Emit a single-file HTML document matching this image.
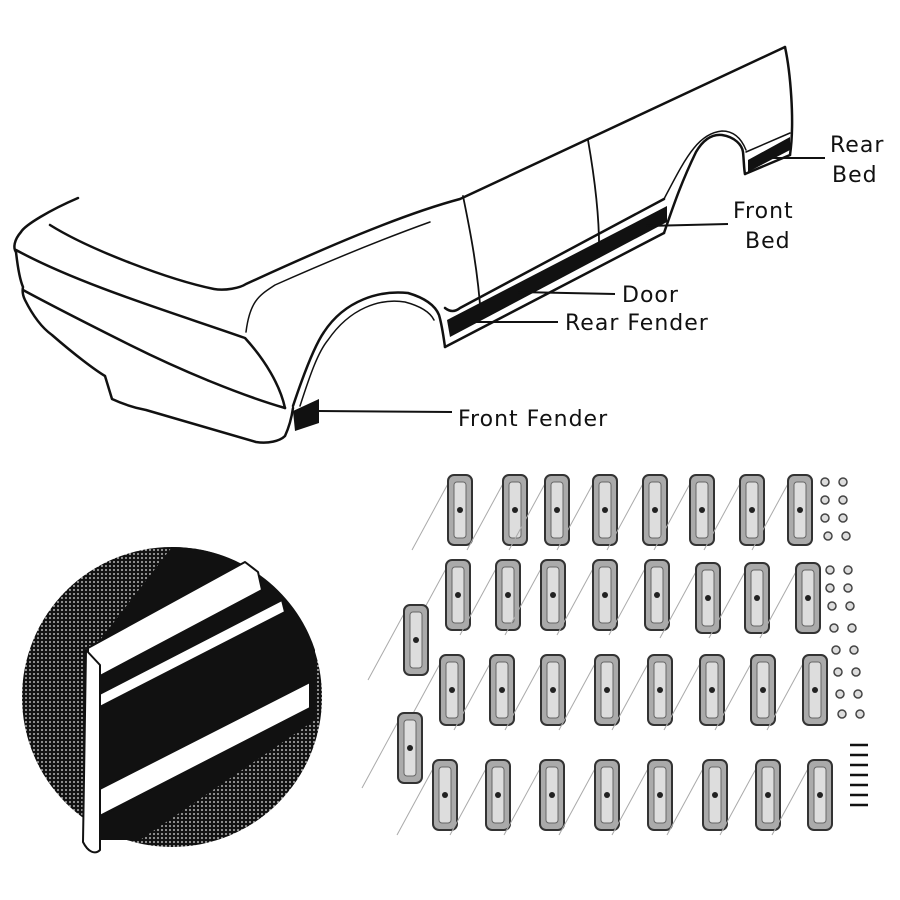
<!DOCTYPE html>
<html><head><style>
html,body{margin:0;padding:0;background:#fff;}
svg{display:block}
text{font-family:"DejaVu Sans","Liberation Sans",sans-serif;font-size:22px;fill:#111;letter-spacing:1px}
</style></head><body>
<svg width="900" height="900" viewBox="0 0 900 900" xmlns="http://www.w3.org/2000/svg">
<defs>
<pattern id="dots" width="4" height="4" patternUnits="userSpaceOnUse">
<rect width="4" height="4" fill="#111"/><circle cx="2" cy="2" r="1.1" fill="#999"/>
</pattern>
<g id="clip">
<line x1="-10" y1="-30" x2="-48" y2="40" stroke="#aaa" stroke-width="1"/>
<rect x="-12" y="-35" width="24" height="70" rx="6" fill="#aaa" stroke="#333" stroke-width="2"/>
<rect x="-6" y="-28" width="12" height="56" rx="3" fill="#ddd" stroke="#666" stroke-width="1"/>
<circle cx="0" cy="0" r="3" fill="#222"/>
</g>
</defs>
<!-- truck body -->
<g fill="none" stroke="#111" stroke-width="2.5" stroke-linejoin="round" stroke-linecap="round">
<!-- roof/hood top -->
<path d="M50,225 C90,250 170,280 214,289 C225,291 240,288 246,284 C320,250 400,215 460,199 L785,47"/>
<path d="M78,198 C50,210 25,225 21,232 C14,240 13,248 16,252"/>
<!-- hood front edge -->
<path d="M16,250 C80,285 180,315 245,338 C265,360 280,385 285,408"/>
<!-- front face -->
<path d="M16,252 C18,270 20,280 23,287 C22,292 23,296 25,300 C35,320 45,330 52,335 C75,355 95,370 105,376 L112,399 C125,405 135,408 146,410 L256,442 C268,444 280,441 285,436 C290,425 292,415 293,408"/>
<path d="M23,290 C60,310 100,330 130,345 C180,370 240,395 285,408"/>
<!-- cowl line -->
<path d="M246,332 C250,300 260,295 275,285 C320,265 380,240 430,222" stroke-width="1.5"/>
<!-- front wheel arch -->
<path d="M293,406 C305,370 315,345 324,332 C345,300 380,290 408,293 C425,298 435,305 439,315 C442,325 444,340 445,347"/>
<path d="M300,406 C310,375 318,352 328,340 C350,308 380,298 405,302 C420,306 430,312 434,320" stroke-width="1.5"/>
<!-- sill -->
<path d="M445,347 L664,233"/>
<path d="M445,308 C450,312 455,312 460,308 L664,199"/>
<path d="M480,318 L664,220" stroke-width="1.5"/>
<!-- rear wheel arch -->
<path d="M664,233 C672,210 680,185 696,152 C703,140 712,134 722,135 C735,137 742,145 743,152 C744,162 744,170 745,174"/>
<path d="M664,199 C674,180 684,160 694,148 C702,138 712,132 722,131 C735,131 742,140 746,150" stroke-width="1.5"/>
<path d="M745,174 L790,155"/>
<path d="M746,152 L790,133" stroke-width="1.5"/>
<!-- rear edge -->
<path d="M785,47 C790,70 795,120 790,155"/>
<!-- door lines -->
<path d="M463,196 C470,230 478,270 481,318" stroke-width="1.8"/>
<path d="M588,140 C595,180 600,220 599,257" stroke-width="1.8"/>
</g>
<!-- black molding strips -->
<g fill="#111">
<polygon points="447,320 667,206 667,222 450,337"/>
<polygon points="748,160 790,137 790,150 748,172"/>
<polygon points="293,411 319,399 319,423 295,431"/>
</g>
<g stroke="#111" stroke-width="2">
<line x1="318" y1="411" x2="452" y2="412"/>
<line x1="466" y1="322" x2="558" y2="322"/>
<line x1="518" y1="292" x2="615" y2="294"/>
<line x1="646" y1="226" x2="728" y2="224"/>
<line x1="763" y1="158" x2="825" y2="158"/>
</g>
<text x="830" y="152">Rear</text>
<text x="832" y="182">Bed</text>
<text x="733" y="218">Front</text>
<text x="745" y="248">Bed</text>
<text x="622" y="302">Door</text>
<text x="565" y="330">Rear Fender</text>
<text x="458" y="426">Front Fender</text>
<!-- circle detail -->
<circle cx="172" cy="697" r="150" fill="url(#dots)"/>
<path d="M172,547 A150,150 0 0 1 315,650 L315,720 L140,840 L100,840 L100,640 Z" fill="#111"/>
<g stroke="#111" stroke-width="2" fill="#fff" stroke-linejoin="round">
<polygon points="88,648 245,562 258,572 262,590 100,676 88,668"/>
<polygon points="88,700 282,600 285,612 90,712"/>
<polygon points="88,795 310,682 310,708 88,822"/>
<path d="M86,650 L100,665 L100,850 C95,855 88,852 83,842 Z"/>
</g>
<!-- clips -->
<g>
<use href="#clip" x="460" y="510"/><use href="#clip" x="515" y="510"/><use href="#clip" x="557" y="510"/><use href="#clip" x="605" y="510"/><use href="#clip" x="655" y="510"/><use href="#clip" x="702" y="510"/><use href="#clip" x="752" y="510"/><use href="#clip" x="800" y="510"/>
<use href="#clip" x="458" y="595"/><use href="#clip" x="508" y="595"/><use href="#clip" x="553" y="595"/><use href="#clip" x="605" y="595"/><use href="#clip" x="657" y="595"/><use href="#clip" x="708" y="598"/><use href="#clip" x="757" y="598"/><use href="#clip" x="808" y="598"/>
<use href="#clip" x="416" y="640"/>
<use href="#clip" x="452" y="690"/><use href="#clip" x="502" y="690"/><use href="#clip" x="553" y="690"/><use href="#clip" x="607" y="690"/><use href="#clip" x="660" y="690"/><use href="#clip" x="712" y="690"/><use href="#clip" x="763" y="690"/><use href="#clip" x="815" y="690"/>
<use href="#clip" x="410" y="748"/>
<use href="#clip" x="445" y="795"/><use href="#clip" x="498" y="795"/><use href="#clip" x="552" y="795"/><use href="#clip" x="607" y="795"/><use href="#clip" x="660" y="795"/><use href="#clip" x="715" y="795"/><use href="#clip" x="768" y="795"/><use href="#clip" x="820" y="795"/>
</g>
<!-- small nuts -->
<g fill="#ddd" stroke="#444" stroke-width="1.5">
<circle cx="825" cy="482" r="4"/><circle cx="843" cy="482" r="4"/>
<circle cx="825" cy="500" r="4"/><circle cx="843" cy="500" r="4"/>
<circle cx="825" cy="518" r="4"/><circle cx="843" cy="518" r="4"/>
<circle cx="828" cy="536" r="4"/><circle cx="846" cy="536" r="4"/>
<circle cx="830" cy="570" r="4"/><circle cx="848" cy="570" r="4"/>
<circle cx="830" cy="588" r="4"/><circle cx="848" cy="588" r="4"/>
<circle cx="832" cy="606" r="4"/><circle cx="850" cy="606" r="4"/>
<circle cx="834" cy="628" r="4"/><circle cx="852" cy="628" r="4"/>
<circle cx="836" cy="650" r="4"/><circle cx="854" cy="650" r="4"/>
<circle cx="838" cy="672" r="4"/><circle cx="856" cy="672" r="4"/>
<circle cx="840" cy="694" r="4"/><circle cx="858" cy="694" r="4"/>
<circle cx="842" cy="714" r="4"/><circle cx="860" cy="714" r="4"/>
</g>
<g stroke="#111" stroke-width="2.5">
<line x1="850" y1="745" x2="868" y2="745"/><line x1="850" y1="755" x2="868" y2="755"/>
<line x1="850" y1="765" x2="868" y2="765"/><line x1="850" y1="775" x2="868" y2="775"/>
<line x1="850" y1="785" x2="868" y2="785"/><line x1="850" y1="795" x2="868" y2="795"/>
<line x1="850" y1="805" x2="868" y2="805"/>
</g>
</svg>
</body></html>
